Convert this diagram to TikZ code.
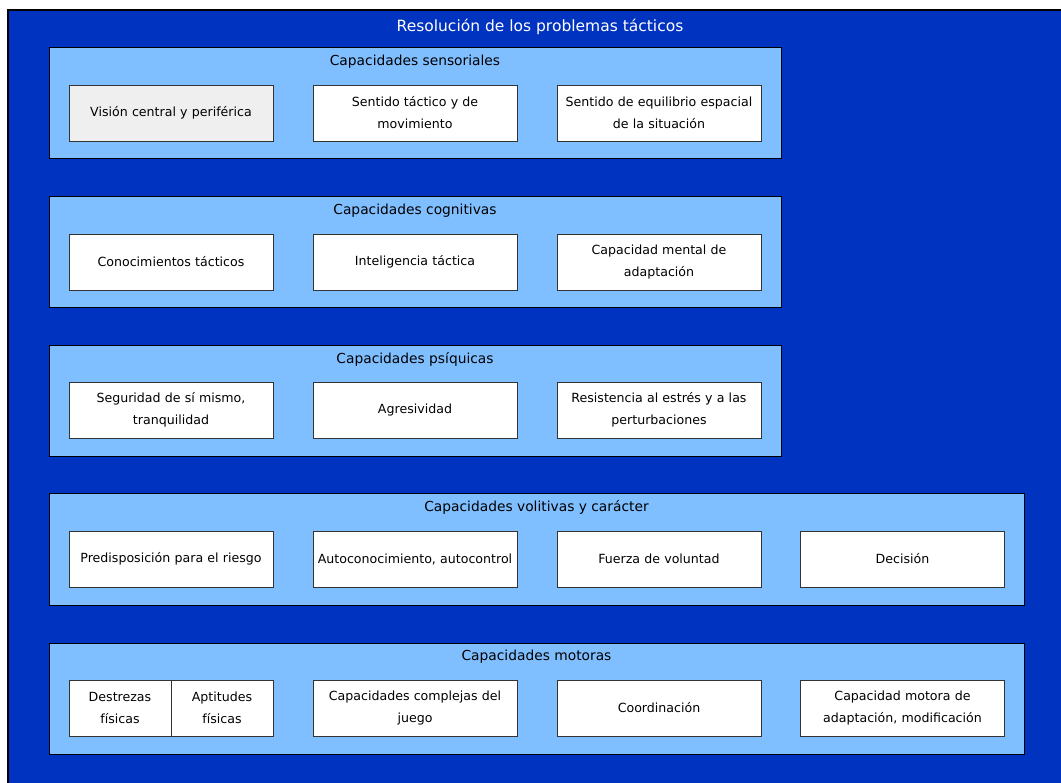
\documentclass[tikz,border=0pt]{standalone}
\usepackage{fontspec}
\setmainfont{DejaVu Sans}
\usepackage{tikz}
\usetikzlibrary{positioning}
\usepackage{xcolor}
\definecolor{tacblue}{RGB}{0,51,191}
\definecolor{taclightblue}{RGB}{128,191,255}
\definecolor{tacgray}{RGB}{239,239,239}
\tikzstyle{group} = [rectangle, draw=black, fill=taclightblue, line width=1pt, minimum height=111pt, inner sep=0pt]
\tikzstyle{capbox} = [rectangle, draw=black!80, fill=white, line width=0.8pt, minimum width=204pt, minimum height=56pt, text width=200pt, align=center, font=\fontsize{12.6}{22}\selectfont, inner sep=0pt]
\tikzstyle{grouptitle} = [font=\fontsize{13.8}{16}\selectfont, text=black]

\begin{document}
\begin{tikzpicture}[x=1pt,y=-1pt]
\useasboundingbox (0,0) rectangle (1061,783);
% Background panel
\fill[tacblue] (8,10) rectangle (1061,783);
\draw[line width=2pt] (1061,10) -- (8,10) -- (8,783);
\node[white, font=\fontsize{15.5}{18}\selectfont] (title) at (540,27) {Resolución de los problemas tácticos};

% Capacidades sensoriales
\node[group, minimum width=732pt] (sens) at (415,103.5) {};
\node[grouptitle] (senstitle) at ([yshift=-14pt]sens.north) {Capacidades sensoriales};
\node[capbox, fill=tacgray] (vision) at (171,113) {Visión central y periférica};
\node[capbox] (sentido) at (415,113) {Sentido táctico y de\\movimiento};
\node[capbox] (equilibrio) at (659,113) {Sentido de equilibrio espacial\\de la situación};

% Capacidades cognitivas
\node[group, minimum width=732pt] (cogn) at (415,252.5) {};
\node[grouptitle] (cogntitle) at ([yshift=-14pt]cogn.north) {Capacidades cognitivas};
\node[capbox] (conoc) at (171,262) {Conocimientos tácticos};
\node[capbox] (intel) at (415,262) {Inteligencia táctica};
\node[capbox] (mental) at (659,262) {Capacidad mental de\\adaptación};

% Capacidades psiquicas
\node[group, minimum width=732pt] (psiq) at (415,401) {};
\node[grouptitle] (psiqtitle) at ([yshift=-14pt]psiq.north) {Capacidades psíquicas};
\node[capbox] (seguridad) at (171,410) {Seguridad de sí mismo,\\tranquilidad};
\node[capbox] (agresiv) at (415,410) {Agresividad};
\node[capbox] (estres) at (659,410) {Resistencia al estrés y a las\\perturbaciones};

% Capacidades volitivas
\node[group, minimum width=975pt] (volit) at (536.5,549.5) {};
\node[grouptitle] (volittitle) at ([yshift=-14pt]volit.north) {Capacidades volitivas y carácter};
\node[capbox] (riesgo) at (171,559) {Predisposición para el riesgo};
\node[capbox] (autocon) at (415,559) {Autoconocimiento, autocontrol};
\node[capbox] (fuerza) at (659,559) {Fuerza de voluntad};
\node[capbox] (decision) at (902.5,559) {Decisión};

% Capacidades motoras
\node[group, minimum width=975pt] (motor) at (536.5,698.5) {};
\node[grouptitle] (motortitle) at ([yshift=-14pt]motor.north) {Capacidades motoras};
\node[capbox, minimum width=102pt, text width=98pt] (destrezas) at (120,708) {Destrezas\\físicas};
\node[capbox, minimum width=102pt, text width=98pt] (aptitudes) at (222,708) {Aptitudes\\físicas};
\node[capbox] (complejas) at (415,708) {Capacidades complejas del\\juego};
\node[capbox] (coord) at (659,708) {Coordinación};
\node[capbox] (adapt) at (902.5,708) {Capacidad motora de\\adaptación, modificación};
\end{tikzpicture}
\end{document}
